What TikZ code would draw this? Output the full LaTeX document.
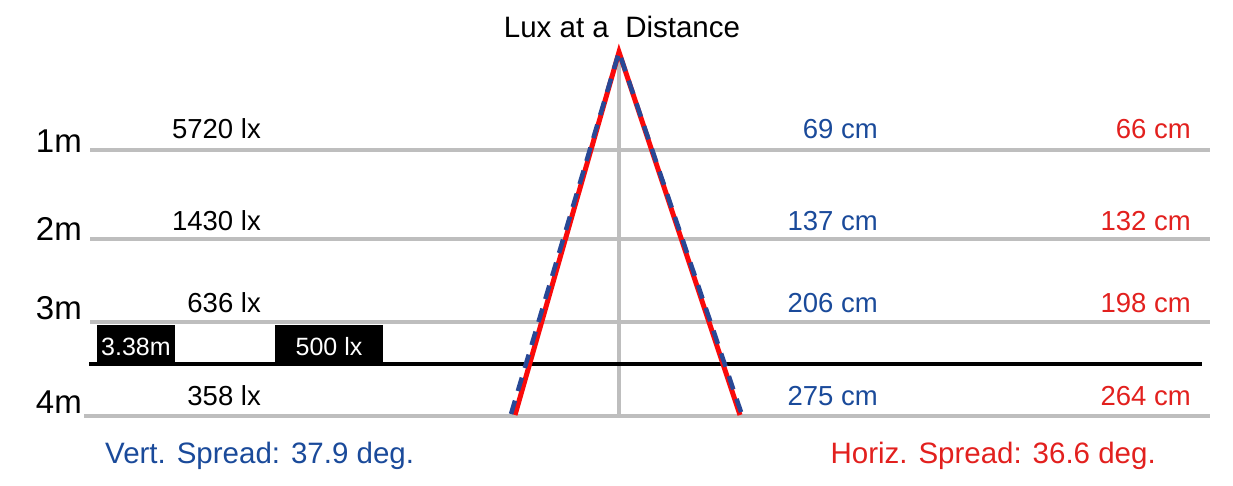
\documentclass[tikz,border=0pt]{standalone}
\usepackage{fontspec}
\setmainfont{Liberation Sans}
\definecolor{gridgray}{RGB}{190,190,190}
\definecolor{txtblue}{RGB}{26,74,154}
\definecolor{txtred}{RGB}{226,32,30}
\definecolor{linered}{RGB}{250,10,10}
\definecolor{lineblue}{RGB}{40,72,150}
\tikzset{
  grid/.style={draw=gridgray,line width=4pt},
  dist/.style={anchor=base east,inner sep=0pt,font=\fontsize{33}{36}\selectfont},
  lux/.style={anchor=base east,inner sep=0pt,font=\fontsize{27.5}{30}\selectfont},
  vcm/.style={anchor=base east,inner sep=0pt,text=txtblue,font=\fontsize{27.5}{30}\selectfont},
  hcm/.style={anchor=base east,inner sep=0pt,text=txtred,font=\fontsize{27.5}{30}\selectfont},
  bigtxt/.style={inner sep=0pt,font=\fontsize{29.5}{32}\selectfont},
  boxtxt/.style={text=white,inner sep=0pt,font=\fontsize{25}{28}\selectfont},
  redline/.style={draw=linered,line width=5pt},
  blueline/.style={draw=lineblue,line width=4.5pt,dash pattern=on 14pt off 10pt},
}
\begin{document}
\begin{tikzpicture}[x=1pt,y=-1pt]
\useasboundingbox (0,0) rectangle (1233,485);
% grid lines
\coordinate (l1a) at (90,150); \coordinate (l1b) at (1210,150);
\coordinate (l2a) at (90,239); \coordinate (l2b) at (1210,239);
\coordinate (l3a) at (90,322); \coordinate (l3b) at (1210,322);
\coordinate (l4a) at (84,416); \coordinate (l4b) at (1210,416);
\coordinate (va) at (619,55); \coordinate (vb) at (619,416);
\draw[grid] (l1a) -- (l1b);
\draw[grid] (l2a) -- (l2b);
\draw[grid] (l3a) -- (l3b);
\draw[grid] (l4a) -- (l4b);
\draw[grid] (va) -- (vb);
% black boxes
\path[fill=black] (97,325) rectangle (175,363);
\path[fill=black] (275,325) rectangle (383,363);
\node[boxtxt,anchor=base west] (b1) at (101,355) {3.38m};
\node[boxtxt,anchor=base] (b2) at (329,355) {500 lx};
% black line
\coordinate (ka) at (89,364); \coordinate (kb) at (1202,364);
\draw[black,line width=4pt] (ka) -- (kb);
% triangle
\coordinate (apex) at (619,52);
\coordinate (rl) at (515,415); \coordinate (rr) at (740,415);
\coordinate (bl) at (511,414); \coordinate (br) at (742,415);
\draw[redline] (rl) -- (apex) -- (rr);
\draw[blueline] (bl) -- (apex) -- (br);
% title
\node[bigtxt,anchor=base] (title) at (622,37) {Lux at a\ \ Distance};
% distance labels
\node[dist] (d1) at (82,152) {1m};
\node[dist] (d2) at (82,240) {2m};
\node[dist] (d3) at (82,319) {3m};
\node[dist] (d4) at (82,413) {4m};
% lux values
\node[lux] (x1) at (261,138) {5720 lx};
\node[lux] (x2) at (261,230) {1430 lx};
\node[lux] (x3) at (261,312) {636 lx};
\node[lux] (x4) at (261,405) {358 lx};
% vertical cm
\node[vcm] (v1) at (878,138) {69 cm};
\node[vcm] (v2) at (878,230) {137 cm};
\node[vcm] (v3) at (878,312) {206 cm};
\node[vcm] (v4) at (878,405) {275 cm};
% horizontal cm
\node[hcm] (h1) at (1191,138) {66 cm};
\node[hcm] (h2) at (1191,230) {132 cm};
\node[hcm] (h3) at (1191,312) {198 cm};
\node[hcm] (h4) at (1191,405) {264 cm};
% spreads
\node[bigtxt,anchor=base west,text=txtblue] (vs) at (105,463) {Vert. Spread: 37.9 deg.};
\node[bigtxt,anchor=base east,text=txtred] (hs) at (1156,463) {Horiz. Spread: 36.6 deg.};
\end{tikzpicture}
\end{document}
